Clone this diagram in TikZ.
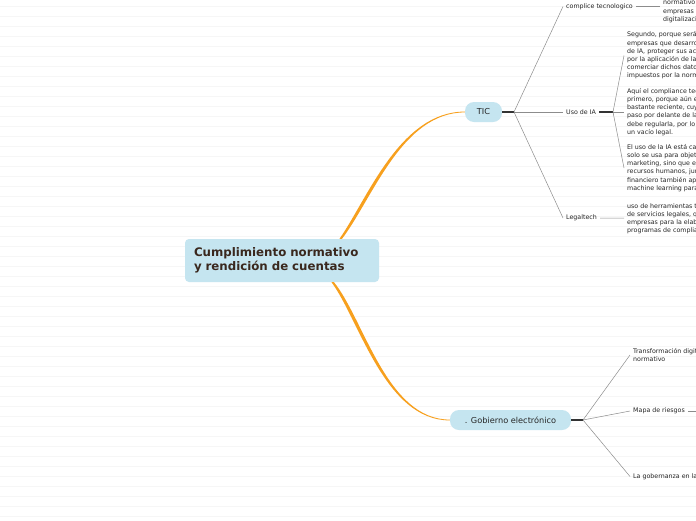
\documentclass[tikz,border=0pt]{standalone}
\usepackage{fontspec}
\setmainfont{DejaVu Sans}
\usetikzlibrary{positioning}
\definecolor{MMblue}{RGB}{197,229,240}
\definecolor{MMbrown}{RGB}{58,40,30}
\definecolor{MMorange}{RGB}{247,160,30}
\definecolor{MMgrid}{RGB}{246,246,246}
\definecolor{MMgray}{RGB}{140,140,140}

\begin{document}
\begin{tikzpicture}[
    x=1pt, y=-1pt,
    rootbox/.style={
      fill=MMblue,
      rounded corners=4pt,
      align=left,
      text=MMbrown,
      font=\fontsize{11.8}{14}\selectfont\bfseries,
      text width=176pt,
      minimum height=43pt,
      inner xsep=9pt
    },
    topic/.style={
      fill=MMblue,
      rounded corners=9pt,
      text=black!85,
      font=\fontsize{8.2}{9}\selectfont,
      minimum height=20pt,
      inner xsep=2pt
    },
    leaf/.style={
      anchor=west,
      align=left,
      text=black!85,
      font=\fontsize{6.3}{8.2}\selectfont,
      inner xsep=3pt,
      inner ysep=1pt
    },
    branch/.style={MMgray, line width=0.5pt},
    stub/.style={black!80, line width=1.1pt}
  ]
    \useasboundingbox (0,0) rectangle (696,520);
    \clip (0,0) rectangle (696,520);
    \fill[white] (0,0) rectangle (696,520);
    \foreach \y in {6,16,...,516}
      \draw[MMgrid, line width=1pt] (0,\y) -- (696,\y);

    % main topic and first level
    \node[rootbox] (root) at (282,260.5)
      {Cumplimiento normativo\\y rendición de cuentas};
    \node[topic, minimum width=37pt] (tic) at (483.5,112) {TIC};
    \node[topic, minimum width=121pt] (gobierno) at (510.5,420)
      {. Gobierno electrónico};

    \fill[MMorange] ([xshift=57.5pt]root.north)
      .. controls +(28,-40) and +(-65,0) .. ([yshift=0.4pt]tic.west)
      -- ([yshift=-0.4pt]tic.west)
      .. controls +(-63,0) and +(30.5,-40) .. ([xshift=60pt]root.north)
      -- cycle;
    \fill[MMorange] ([xshift=49.5pt]root.south)
      .. controls +(28,38) and +(-65,0) .. ([yshift=-0.4pt]gobierno.west)
      -- ([yshift=0.4pt]gobierno.west)
      .. controls +(-63,0) and +(30.5,38) .. ([xshift=52pt]root.south)
      -- cycle;

    % TIC
    \coordinate (tic-hub) at (514,112);
    \node[leaf] (complice) at (563,6.5) {complice tecnologico};
    \node[leaf] (uso-ia) at (563,112) {Uso de IA};
    \node[leaf] (legaltech) at (563,218) {Legaltech};
    \node[leaf, anchor=north west] (complice-note) at (660,-1)
      {normativo\\empresas\\digitalización de las};
    \coordinate (uso-hub) at (613,112);
    \node[leaf] (uso-note-a) at (624,55.5)
      {Segundo, porque será necesario que las\\empresas que desarrollen sistemas\\de IA, proteger sus activos digitales\\por la aplicación de la normativa\\comerciar dichos datos con fines\\impuestos por la normativa vigente};
    \node[leaf] (uso-note-b) at (624,112)
      {Aquí el compliance tecnológico es\\primero, porque aún es un campo\\bastante reciente, cuya evolución\\paso por delante de la ley que\\debe regularla, por lo que existe\\un vacío legal.};
    \node[leaf] (uso-note-c) at (624,168)
      {El uso de la IA está cada vez más\\solo se usa para objetivos de\\marketing, sino que en áreas como\\recursos humanos, jurídico o\\financiero también aplican\\machine learning para};
    \node[leaf] (legal-note) at (624,218.5)
      {uso de herramientas tecnológicas\\de servicios legales, que usan las\\empresas para la elaboración de\\programas de compliance.};

    \draw[stub] (tic) -- (tic-hub);
    \draw[branch] (tic-hub) -- (complice.west);
    \draw[branch] (tic-hub) -- (uso-ia.west);
    \draw[branch] (tic-hub) -- (legaltech.west);
    \draw[branch] (complice) -- (complice-note.west |- complice);
    \draw[stub] (uso-ia) -- (uso-hub);
    \draw[branch] (uso-hub) -- (uso-note-a.west);
    \draw[branch] (uso-hub) -- (uso-note-b.west);
    \draw[branch] (uso-hub) -- (uso-note-c.west);
    \draw[branch] (legaltech) -- (legal-note);

    % Gobierno electronico
    \coordinate (gob-hub) at (583,420);
    \node[leaf] (transformacion) at (630,355)
      {Transformación digital del\\normativo};
    \node[leaf] (mapa) at (630,411) {Mapa de riesgos};
    \node[leaf] (gobernanza) at (630,476.5) {La gobernanza en la era digital};
    \coordinate (mapa-next) at (710,411);

    \draw[stub] (gobierno) -- (gob-hub);
    \draw[branch] (gob-hub) -- (transformacion.west);
    \draw[branch] (gob-hub) -- (mapa.west);
    \draw[branch] (gob-hub) -- (gobernanza.west);
    \draw[branch] (mapa) -- (mapa-next);
  \end{tikzpicture}
\end{document}
